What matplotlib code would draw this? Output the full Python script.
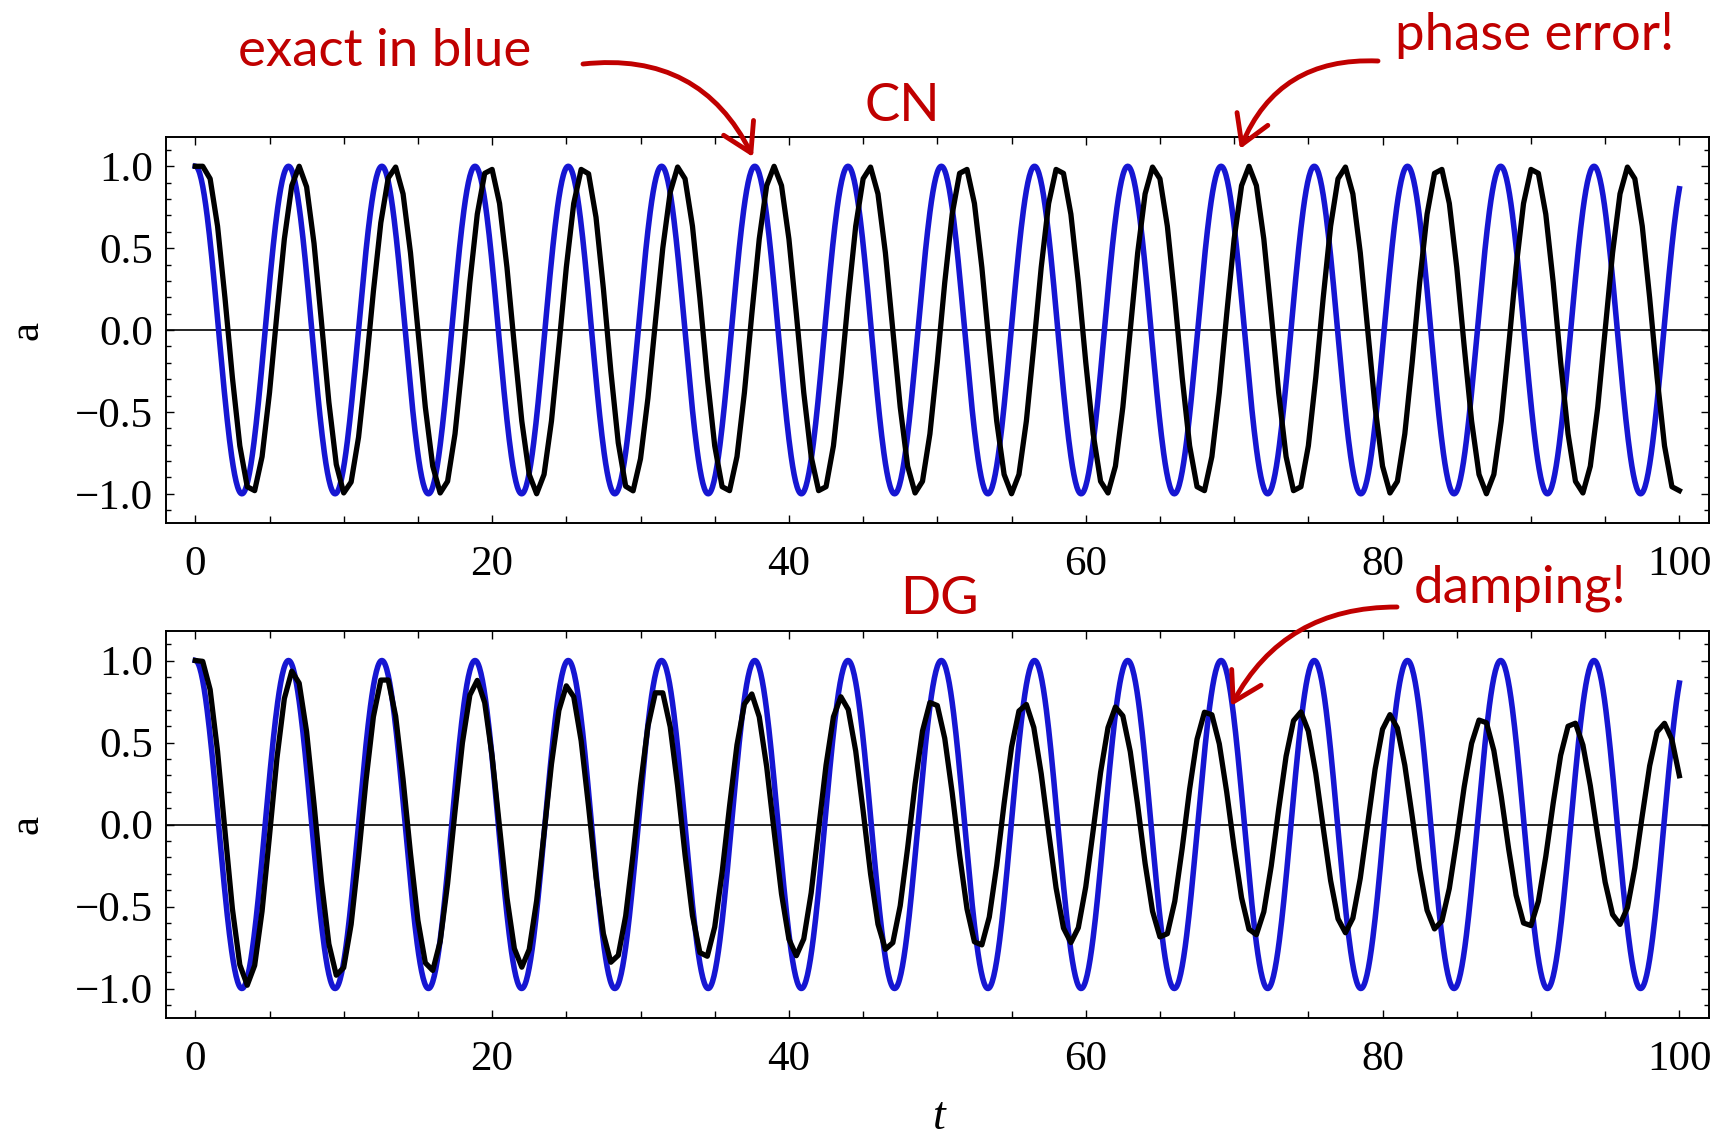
import numpy as np
import matplotlib.pyplot as plt
from matplotlib.patches import FancyArrowPatch
from matplotlib.ticker import MultipleLocator, FuncFormatter

plt.rcParams['font.family'] = 'Liberation Serif'
plt.rcParams['font.size'] = 31
plt.rcParams['xtick.direction'] = 'in'
plt.rcParams['ytick.direction'] = 'in'
plt.rcParams['axes.linewidth'] = 1.4

W, H = 1727, 1140
red = '#c00000'
blue = '#1616d2'

t_end = 100.0
dt_num = 0.5   # step of the numerical runs (kinks in the black curves)

# exact solution: extrema (time, value)
exact_t = [0.0, 3.14, 6.28, 9.42, 12.57, 15.71, 18.85, 21.99, 25.13, 28.27,
           31.42, 34.56, 37.70, 40.84, 43.98, 47.12, 50.27, 53.41, 56.55,
           59.69, 62.83, 65.97, 69.12, 72.26, 75.40, 78.54, 81.68, 84.82,
           87.96, 91.11, 94.25, 97.39, 100.53]
exact_v = [1.0, -1.0, 1.0, -1.0, 1.0, -1.0, 1.0, -1.0, 1.0, -1.0,
           1.0, -1.0, 1.0, -1.0, 1.0, -1.0, 1.0, -1.0, 1.0,
           -1.0, 1.0, -1.0, 1.0, -1.0, 1.0, -1.0, 1.0, -1.0,
           1.0, -1.0, 1.0, -1.0, 1.0]

# CN: phase error
cn_peak_t = [0.6, 7.0, 13.4, 19.8, 26.2, 32.6, 39.0, 45.4, 51.8, 58.2,
             64.6, 71.0, 77.4, 83.8, 90.2, 96.6, 103.0]
cn_peak_v = [1.0, 1.0, 1.0, 1.0, 1.0, 1.0, 1.0, 1.0, 1.0, 1.0,
             1.0, 1.0, 1.0, 1.0, 1.0, 1.0, 1.0]
cn_trough_t = [3.8, 10.1, 16.6, 23.0, 29.3, 35.8, 42.2, 48.6, 55.0, 61.4,
               67.8, 74.2, 80.6, 87.0, 93.4, 99.8]
cn_trough_v = [-1.0, -1.0, -1.0, -1.0, -1.0, -1.0, -1.0, -1.0, -1.0, -1.0,
               -1.0, -1.0, -1.0, -1.0, -1.0, -1.0]

# DG: damping
dg_peak_t = [0.4, 6.6, 12.75, 18.95, 25.1, 31.25, 37.4, 43.55, 49.7, 55.85,
             62.1, 68.2, 74.4, 80.5, 86.7, 92.8, 98.9]
dg_peak_v = [1.0, 0.94, 0.91, 0.88, 0.85, 0.83, 0.80, 0.78, 0.76, 0.74,
             0.72, 0.70, 0.69, 0.67, 0.65, 0.63, 0.62]
dg_trough_t = [3.5, 9.65, 15.85, 22.0, 28.15, 34.3, 40.5, 46.65, 52.8, 59.0,
               65.2, 71.35, 77.5, 83.6, 89.8, 95.95, 102.1]
dg_trough_v = [-0.98, -0.93, -0.90, -0.87, -0.85, -0.82, -0.80, -0.77, -0.75,
               -0.72, -0.70, -0.68, -0.66, -0.64, -0.63, -0.61, -0.60]


def merge(pt, pv, tt, tv):
    t = np.array(pt + tt)
    v = np.array(pv + tv)
    o = np.argsort(t)
    return t[o], v[o]


def arcs(t, tk, vk):
    # half-cosine arcs between successive extrema
    tk = np.asarray(tk)
    vk = np.asarray(vk)
    i = np.clip(np.searchsorted(tk, t, side='right') - 1, 0, len(tk) - 2)
    s = np.clip((t - tk[i]) / (tk[i + 1] - tk[i]), 0, 1)
    return vk[i] + (vk[i + 1] - vk[i]) * (1 - np.cos(np.pi * s)) / 2


t_fine = np.linspace(0, t_end, 2001)
t_num = np.arange(0, t_end + dt_num / 2, dt_num)

cn_t, cn_v = merge(cn_peak_t, cn_peak_v, cn_trough_t, cn_trough_v)
dg_t, dg_v = merge(dg_peak_t, dg_peak_v, dg_trough_t, dg_trough_v)

fig = plt.figure(figsize=(W / 100, H / 100), dpi=100)
ax1 = fig.add_axes([0.0959, 0.541, 0.8937, 0.339])
ax2 = fig.add_axes([0.0959, 0.107, 0.8937, 0.3395])

yfmt = FuncFormatter(lambda v, p: ('%.1f' % (0.0 if abs(v) < 1e-9 else v)).replace('-', '\u2212'))

for ax, (nt, nv) in ((ax1, (cn_t, cn_v)), (ax2, (dg_t, dg_v))):
    ax.axhline(0, color='black', lw=1.2, zorder=1)
    ax.plot(t_fine, arcs(t_fine, exact_t, exact_v), color=blue, lw=4.0, zorder=2)
    ax.plot(t_num, arcs(t_num, nt, nv), color='black', lw=3.8, zorder=3)
    ax.set_xlim(-2, 102)
    ax.set_ylim(-1.18, 1.18)
    ax.xaxis.set_major_locator(MultipleLocator(20))
    ax.xaxis.set_minor_locator(MultipleLocator(5))
    ax.yaxis.set_major_locator(MultipleLocator(0.5))
    ax.yaxis.set_minor_locator(MultipleLocator(0.1))
    ax.yaxis.set_major_formatter(yfmt)
    ax.tick_params(which='both', top=True, right=True, width=1.0)
    ax.tick_params(axis='x', which='major', length=6, pad=16)
    ax.tick_params(axis='x', which='minor', length=5)
    ax.tick_params(axis='y', which='major', length=5.5, pad=9)
    ax.tick_params(axis='y', which='minor', length=3.6)

# axis labels
fig.text(27 / W, 1 - 330 / H, 'a', rotation=90, ha='center', va='center', fontsize=31)
fig.text(27 / W, 1 - 825 / H, 'a', rotation=90, ha='center', va='center', fontsize=31)
fig.text(939 / W, 1 - 1118 / H, 't', style='italic', ha='center', va='center', fontsize=33)

# red notes
note = dict(color=red, family='Lato', fontsize=38)
fig.text(238 / W, 1 - 66 / H, 'exact in blue', ha='left', va='baseline', **note)
fig.text(1395 / W, 1 - 50 / H, 'phase error!', ha='left', va='baseline', **note)
fig.text(902 / W, 1 - 121 / H, 'CN', ha='center', va='baseline', **note)
fig.text(939 / W, 1 - 614 / H, 'DG', ha='center', va='baseline', **note)
fig.text(1414 / W, 1 - 603 / H, 'damping!', ha='left', va='baseline', **note)


def arrow(start, tip, rad):
    fig.add_artist(FancyArrowPatch(
        (start[0], H - start[1]), (tip[0], H - tip[1]), transform=None,
        arrowstyle='->,head_length=0.5,head_width=0.3',
        connectionstyle='arc3,rad=%s' % rad,
        color=red, lw=3.5, mutation_scale=40,
        shrinkA=0, shrinkB=0, zorder=10))


arrow((583, 64), (753, 157), -0.35)
arrow((1378, 61), (1240, 149), 0.35)
arrow((1397, 607), (1231, 706), 0.3)

fig.savefig('out.png', dpi=100, facecolor='white')
